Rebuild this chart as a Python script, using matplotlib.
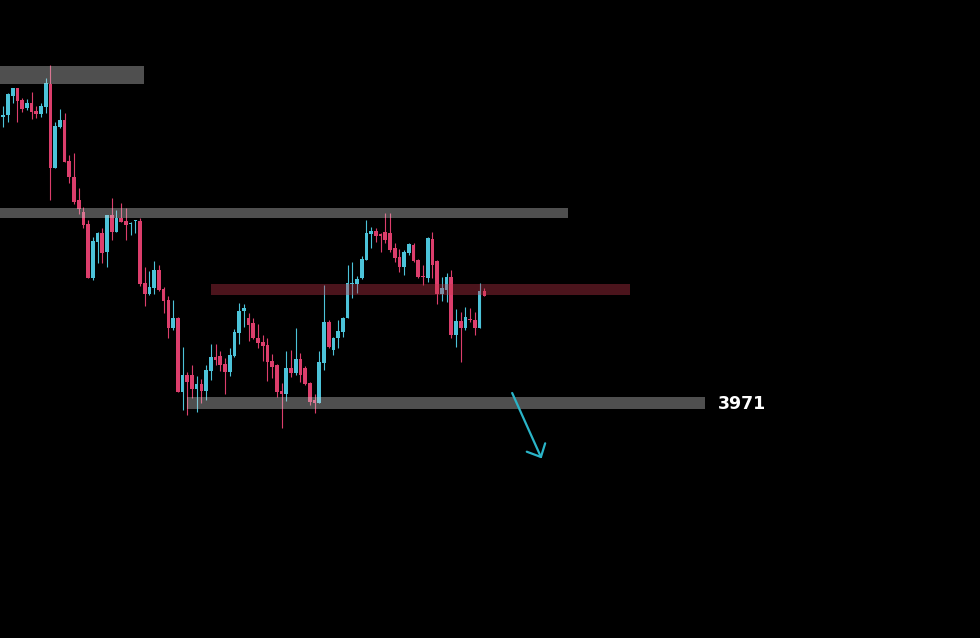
import matplotlib
matplotlib.use("Agg")
import matplotlib.pyplot as plt
import numpy as np

# Candle data (screen-level units, axis inverted: smaller = higher price)
# direction: 'u' = up (cyan), 'd' = down (pink)
direction = [
    'u','u','u','d','d','u','d','d','u','u',
    'd','u','u','d','d','d','d','d','d','u',
    'u','d','u','d','u','d','d','u','u','d',
    'd','u','u','d','d','d','u','d','u','d',
    'd','u','d','u','u','d','d','d','u','u',
    'u','u','d','d','d','d','d','d','d','d',
    'u','d','u','d','d','d','d','u','u','d',
    'u','u','u','u','u','u','u','u','u','d',
    'd','d','d','d','d','u','u','d','d','d',
    'u','d','d','u','u','d','u','d','u','d',
    'd','u','d',
]
body_top = [
    115, 94, 88, 88, 100, 103, 103, 111, 106, 83,
    84, 126, 120, 120, 161, 177, 200, 212, 224, 241,
    233, 233, 215, 215, 218, 218, 221, 223, 220, 221,
    283, 287, 270, 270, 289, 300, 318, 318, 375, 375,
    375, 384, 384, 370, 357, 357, 356, 364, 355, 332,
    311, 308, 318, 323, 338, 342, 345, 361, 365, 391,
    368, 368, 359, 359, 368, 383, 400, 362, 322, 322,
    338, 331, 318, 283, 283, 279, 259, 233, 231, 231,
    234, 232, 233, 248, 257, 252, 244, 245, 260, 276,
    238, 239, 261, 288, 277, 277, 321, 321, 317, 319,
    320, 291, 291,
]
body_bottom = [
    117, 115, 96, 101, 109, 108, 112, 114, 114, 107,
    168, 168, 127, 162, 177, 202, 209, 225, 278, 278,
    242, 253, 252, 232, 232, 222, 225, 224, 221, 284,
    294, 294, 288, 290, 301, 328, 328, 392, 392, 382,
    389, 389, 391, 391, 371, 360, 365, 372, 372, 356,
    333, 311, 325, 338, 343, 346, 362, 367, 392, 394,
    394, 373, 373, 375, 384, 402, 403, 403, 363, 347,
    350, 338, 332, 318, 284, 284, 278, 260, 234, 236,
    236, 240, 250, 258, 267, 267, 253, 261, 277, 277,
    278, 265, 294, 294, 290, 335, 335, 328, 328, 320,
    328, 328, 296,
]
wick_top = [
    106, 93, 88, 88, 98, 99, 92, 106, 103, 78,
    65, 122, 109, 113, 155, 153, 188, 207, 220, 237,
    232, 228, 215, 198, 210, 203, 208, 222, 220, 218,
    267, 271, 261, 265, 287, 296, 300, 317, 347, 372,
    365, 376, 379, 365, 344, 344, 351, 358, 348, 329,
    303, 304, 313, 318, 324, 335, 338, 354, 364, 383,
    351, 350, 328, 353, 366, 382, 394, 351, 285, 320,
    337, 320, 317, 265, 262, 276, 256, 220, 227, 228,
    233, 213, 213, 243, 249, 250, 243, 243, 259, 265,
    237, 232, 260, 277, 273, 270, 309, 312, 307, 308,
    312, 283, 288,
]
wick_bottom = [
    127, 122, 103, 122, 112, 110, 119, 118, 117, 113,
    200, 168, 128, 162, 183, 204, 214, 228, 278, 280,
    263, 263, 267, 240, 232, 222, 240, 235, 233, 286,
    306, 295, 294, 291, 313, 338, 330, 392, 410, 415,
    398, 412, 403, 400, 380, 365, 371, 394, 376, 357,
    344, 327, 341, 339, 348, 361, 381, 378, 397, 428,
    401, 377, 375, 382, 385, 405, 413, 403, 370, 348,
    355, 348, 337, 318, 298, 293, 279, 260, 248, 242,
    252, 243, 252, 262, 272, 275, 255, 262, 278, 285,
    282, 278, 304, 301, 302, 338, 347, 362, 330, 322,
    335, 328, 296,
]

# Drawn zones: (start index, end index, upper level, lower level)
zone_gray = [(-0.70, 29.83, 66, 84), (-0.70, 119.7, 208, 218), (38.95, 148.8, 397, 409)]
zone_red = [(44.04, 132.9, 284, 295)]
level_label = "3971"
level_label_pos = (151.5, 404)
arrow_pts = [(107.9, 393), (114.0, 457)]
arrow_head = [(111.0, 451.7), (114.9, 443.3)]

UP = "#4cc3d9"
DOWN = "#dc3e6c"

fig = plt.figure(figsize=(9.8, 6.38), dpi=100, facecolor="black")
ax = fig.add_axes([0, 0, 1, 1])
ax.set_facecolor("black")
ax.set_axis_off()

n = len(body_top)
x = np.arange(n)
colors = [UP if d == 'u' else DOWN for d in direction]

ax.vlines(x, wick_top, wick_bottom, colors=colors, linewidth=0.8, zorder=2)
heights = [max(b - t, 1.2) for t, b in zip(body_top, body_bottom)]
ax.bar(x, heights, bottom=body_top, width=0.78, color=colors, linewidth=0, zorder=3)

for x0, x1, y0, y1 in zone_gray:
    ax.fill_between([x0, x1], y0, y1, color="#d2d2d2", alpha=0.38, linewidth=0, zorder=4)
for x0, x1, y0, y1 in zone_red:
    ax.fill_between([x0, x1], y0, y1, color="#c8374b", alpha=0.38, linewidth=0, zorder=4)

ax.plot([arrow_pts[0][0], arrow_pts[1][0]], [arrow_pts[0][1], arrow_pts[1][1]],
        color="#2ab4c8", linewidth=1.6, solid_capstyle="round", zorder=5)
for hx, hy in arrow_head:
    ax.plot([hx, arrow_pts[1][0]], [hy, arrow_pts[1][1]], color="#2ab4c8",
            linewidth=1.6, solid_capstyle="round", zorder=5)

ax.text(level_label_pos[0], level_label_pos[1], level_label, color="white",
        fontsize=12.5, fontweight="bold", ha="left", va="center", family="DejaVu Sans", zorder=6)

ax.set_xlim(-0.70, 207.1)
ax.set_ylim(638, 0)

fig.savefig("out.png", dpi=100, facecolor="black")
